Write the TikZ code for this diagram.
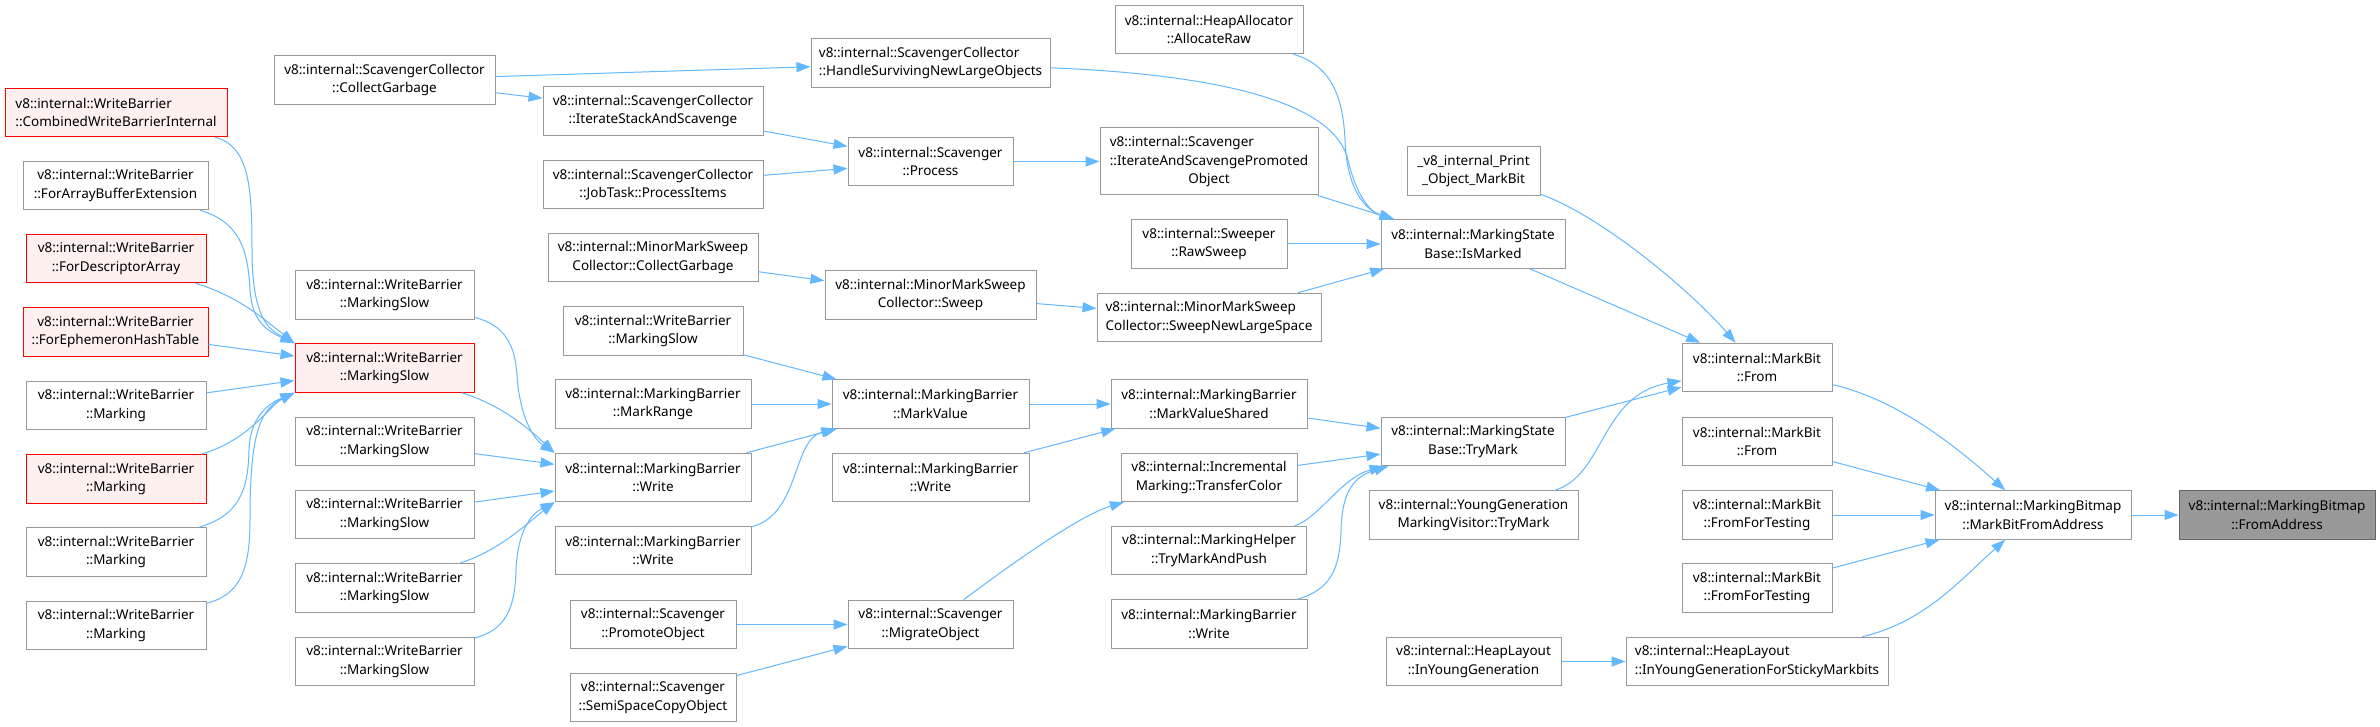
\documentclass[tikz,border=0pt]{standalone}
\usepackage{fontspec}
\setmainfont{Noto Sans}
\usetikzlibrary{arrows.meta}
\definecolor{callblue}{HTML}{63B8FF}
\definecolor{boxline}{HTML}{999999}
\definecolor{hotline}{HTML}{FF0000}
\definecolor{hotfill}{HTML}{FFF0F0}
\definecolor{selline}{HTML}{666666}
\definecolor{selfill}{HTML}{999999}

\begin{document}
\begin{tikzpicture}[x=1pt,y=-1pt,font=\fontsize{13.5}{18.3}\selectfont,
  >={Triangle[length=14pt,width=10pt]},
  fn/.style={draw=boxline,fill=white,line width=1pt,align=center,inner sep=0pt,minimum height=48.5pt},
  fnhot/.style={fn,draw=hotline,fill=hotfill},
  fnsel/.style={fn,draw=selline,fill=selfill},
  call/.style={->,draw=callblue,line width=1pt}]
  \path[use as bounding box,fill=white] (0,0) rectangle (2380,727);

  % column 1: write barrier entry points
  \node[fnhot,minimum width=222pt,align=left] (wbcwbi) at (116,112.5) {v8::internal::WriteBarrier\\::CombinedWriteBarrierInternal};
  \node[fn,minimum width=185pt] (wbfabe) at (115.5,185.5) {v8::internal::WriteBarrier\\::ForArrayBufferExtension};
  \node[fnhot,minimum width=180pt] (wbfda) at (116,258.5) {v8::internal::WriteBarrier\\::ForDescriptorArray};
  \node[fnhot,minimum width=185pt] (wbfeht) at (115.5,332) {v8::internal::WriteBarrier\\::ForEphemeronHashTable};
  \node[fn,minimum width=180pt] (wbmk1) at (116,405.5) {v8::internal::WriteBarrier\\::Marking};
  \node[fnhot,minimum width=180pt] (wbmk2) at (116,479) {v8::internal::WriteBarrier\\::Marking};
  \node[fn,minimum width=180pt] (wbmk3) at (116,552) {v8::internal::WriteBarrier\\::Marking};
  \node[fn,minimum width=180pt] (wbmk4) at (116,625.5) {v8::internal::WriteBarrier\\::Marking};

  % column 2: marking slow paths
  \node[fn,minimum width=221pt] (sccg) at (384.5,80) {v8::internal::ScavengerCollector\\::CollectGarbage};
  \node[fn,minimum width=179pt] (wbms1) at (384.5,295) {v8::internal::WriteBarrier\\::MarkingSlow};
  \node[fnhot,minimum width=179pt] (wbms2) at (384.5,368) {v8::internal::WriteBarrier\\::MarkingSlow};
  \node[fn,minimum width=179pt] (wbms3) at (384.5,441.5) {v8::internal::WriteBarrier\\::MarkingSlow};
  \node[fn,minimum width=179pt] (wbms4) at (384.5,514.5) {v8::internal::WriteBarrier\\::MarkingSlow};
  \node[fn,minimum width=179pt] (wbms5) at (384.5,588) {v8::internal::WriteBarrier\\::MarkingSlow};
  \node[fn,minimum width=179pt] (wbms6) at (384.5,661.5) {v8::internal::WriteBarrier\\::MarkingSlow};

  % column 3
  \node[fn,minimum width=220pt] (scisas) at (653,111) {v8::internal::ScavengerCollector\\::IterateStackAndScavenge};
  \node[fn,minimum width=220pt] (scpi) at (653,184.5) {v8::internal::ScavengerCollector\\::JobTask::ProcessItems};
  \node[fn,minimum width=210pt] (mmscg) at (653,257.5) {v8::internal::MinorMarkSweep\\Collector::CollectGarbage};
  \node[fn,minimum width=180pt] (wbms7) at (653,331) {v8::internal::WriteBarrier\\::MarkingSlow};
  \node[fn,minimum width=196pt] (mbmr) at (653,404) {v8::internal::MarkingBarrier\\::MarkRange};
  \node[fn,minimum width=196pt] (mbw1) at (653,477.5) {v8::internal::MarkingBarrier\\::Write};
  \node[fn,minimum width=196pt] (mbw2) at (653,550.5) {v8::internal::MarkingBarrier\\::Write};
  \node[fn,minimum width=166pt] (scpo) at (653,624.5) {v8::internal::Scavenger\\::PromoteObject};
  \node[fn,minimum width=166pt] (scssco) at (653,697.5) {v8::internal::Scavenger\\::SemiSpaceCopyObject};

  % column 4
  \node[fn,minimum width=239pt,align=left] (schsnlo) at (930.5,63) {v8::internal::ScavengerCollector\\::HandleSurvivingNewLargeObjects};
  \node[fn,minimum width=165pt] (scproc) at (930.5,161.5) {v8::internal::Scavenger\\::Process};
  \node[fn,minimum width=211pt] (mmssw) at (930.5,295) {v8::internal::MinorMarkSweep\\Collector::Sweep};
  \node[fn,minimum width=197pt] (mbmv) at (930.5,404) {v8::internal::MarkingBarrier\\::MarkValue};
  \node[fn,minimum width=197pt] (mbw3) at (930.5,477.5) {v8::internal::MarkingBarrier\\::Write};
  \node[fn,minimum width=165pt] (scmo) at (930.5,624.5) {v8::internal::Scavenger\\::MigrateObject};

  % column 5
  \node[fn,minimum width=188pt] (haar) at (1209,29.5) {v8::internal::HeapAllocator\\::AllocateRaw};
  \node[fn,minimum width=218pt,minimum height=67pt] (sciasp) at (1209,161.5)
    {\begin{tabular}{@{}l@{}}v8::internal::Scavenger\\::IterateAndScavengePromoted\\\multicolumn{1}{@{}c@{}}{Object}\end{tabular}};
  \node[fn,minimum width=156pt] (swrs) at (1209,244) {v8::internal::Sweeper\\::RawSweep};
  \node[fn,minimum width=224pt,align=left] (mmssnls) at (1209,317.5) {v8::internal::MinorMarkSweep\\Collector::SweepNewLargeSpace};
  \node[fn,minimum width=196pt] (mbmvs) at (1209,404) {v8::internal::MarkingBarrier\\::MarkValueShared};
  \node[fn,minimum width=176pt] (imtc) at (1209,477.5) {v8::internal::Incremental\\Marking::TransferColor};
  \node[fn,minimum width=195pt] (mhtmp) at (1209,550.5) {v8::internal::MarkingHelper\\::TryMarkAndPush};
  \node[fn,minimum width=196pt] (mbw4) at (1209,624) {v8::internal::MarkingBarrier\\::Write};

  % column 6
  \node[fn,minimum width=133pt] (pomb) at (1473.5,171) {\_v8\_internal\_Print\\\_Object\_MarkBit};
  \node[fn,minimum width=184pt] (msbim) at (1473,244) {v8::internal::MarkingState\\Base::IsMarked};
  \node[fn,minimum width=184pt] (msbtm) at (1473,441.5) {v8::internal::MarkingState\\Base::TryMark};
  \node[fn,minimum width=209pt] (ygmvtm) at (1473.5,515) {v8::internal::YoungGeneration\\MarkingVisitor::TryMark};
  \node[fn,minimum width=175pt] (hliyg) at (1473.5,661.5) {v8::internal::HeapLayout\\::InYoungGeneration};

  % column 7
  \node[fn,minimum width=150pt] (mbf1) at (1757,367.5) {v8::internal::MarkBit\\::From};
  \node[fn,minimum width=150pt] (mbf2) at (1757,441.5) {v8::internal::MarkBit\\::From};
  \node[fn,minimum width=150pt] (mbfft1) at (1757,515) {v8::internal::MarkBit\\::FromForTesting};
  \node[fn,minimum width=150pt] (mbfft2) at (1757,588) {v8::internal::MarkBit\\::FromForTesting};
  \node[fn,minimum width=262pt,align=left] (hliygsm) at (1757,661.5) {v8::internal::HeapLayout\\::InYoungGenerationForStickyMarkbits};

  % columns 8 and 9
  \node[fn,minimum width=196pt] (mbmbfa) at (2033,515) {v8::internal::MarkingBitmap\\::MarkBitFromAddress};
  \node[fnsel,minimum width=196pt] (mbfa) at (2277,515) {v8::internal::MarkingBitmap\\::FromAddress};

  % col1 -> red MarkingSlow
  \draw[call] (wbcwbi) .. controls (250,146) and (252,190) .. (252,250) .. controls (252,320) and (270,330) .. (wbms2.north west);
  \draw[call] (wbfabe) .. controls (240,222) and (248,250) .. (250,290) .. controls (252,320) and (265,330) .. (wbms2.north west);
  \draw[call] (wbfda) .. controls (240,297) and (265,320) .. (wbms2.north west);
  \draw[call] (wbfeht) -- (wbms2);
  \draw[call] (wbmk1) -- (wbms2);
  \draw[call] (wbmk2) .. controls (250,440) and (270,405) .. (wbms2.south west);
  \draw[call] (wbmk3) .. controls (240,515) and (248,490) .. (249,450) .. controls (250,420) and (265,405) .. (wbms2.south west);
  \draw[call] (wbmk4) .. controls (240,595) and (250,570) .. (250,520) .. controls (250,440) and (258,410) .. (wbms2.south west);

  % col2 -> MarkingBarrier::Write
  \draw[call] (wbms1) .. controls (505,325) and (515,345) .. (517,375) .. controls (520,420) and (535,440) .. (mbw1.north west);
  \draw[call] (wbms2) .. controls (500,405) and (525,425) .. (mbw1.north west);
  \draw[call] (wbms3) -- (mbw1);
  \draw[call] (wbms4) -- (mbw1);
  \draw[call] (wbms5) .. controls (500,550) and (525,525) .. (mbw1.south west);
  \draw[call] (wbms6) .. controls (505,630) and (515,610) .. (516,570) .. controls (518,525) and (535,512) .. (mbw1.south west);

  % col2/3 -> col4
  \draw[call] (sccg) -- (schsnlo);
  \draw[call] (sccg) -- (scisas);
  \draw[call] (scisas) -- (scproc);
  \draw[call] (scpi) -- (scproc);
  \draw[call] (mmscg) -- (mmssw);
  \draw[call] (wbms7) -- (mbmv);
  \draw[call] (mbmr) -- (mbmv);
  \draw[call] (mbw1) -- (mbmv);
  \draw[call] (mbw2) .. controls (800,515) and (792,440) .. (mbmv);
  \draw[call] (scpo) -- (scmo);
  \draw[call] (scssco) -- (scmo);

  % col4 -> col5
  \draw[call] (schsnlo) .. controls (1230,75) and (1335,105) .. (1348,160) .. controls (1356,195) and (1370,212) .. (msbim);
  \draw[call] (scproc) -- (sciasp);
  \draw[call] (mmssw) -- (mmssnls);
  \draw[call] (mbmv) -- (mbmvs);
  \draw[call] (mbw3) -- (mbmvs);
  \draw[call] (scmo) .. controls (1010,565) and (1080,515) .. (imtc);

  % col5 -> col6
  \draw[call] (haar) .. controls (1330,65) and (1343,95) .. (1345,140) .. controls (1347,190) and (1365,210) .. (msbim);
  \draw[call] (sciasp) -- (msbim);
  \draw[call] (swrs) -- (msbim);
  \draw[call] (mmssnls) -- (msbim);
  \draw[call] (mbmvs) -- (msbtm);
  \draw[call] (imtc) -- (msbtm);
  \draw[call] (mhtmp) .. controls (1318,519) and (1341,478) .. (msbtm);
  \draw[call] (mbw4) .. controls (1330,590) and (1340,570) .. (1341,530) .. controls (1342,490) and (1355,476) .. (msbtm);
  \draw[call] (hliyg) -- (hliygsm);

  % col6 -> MarkBit::From
  \draw[call] (pomb) .. controls (1600,215) and (1690,290) .. (mbf1);
  \draw[call] (msbim) -- (mbf1);
  \draw[call] (msbtm) -- (mbf1);
  \draw[call] (ygmvtm) .. controls (1605,475) and (1600,395) .. (mbf1);

  % col7 -> MarkBitFromAddress -> FromAddress
  \draw[call] (mbf1) .. controls (1900,400) and (1960,450) .. (mbmbfa);
  \draw[call] (mbf2) -- (mbmbfa);
  \draw[call] (mbfft1) -- (mbmbfa);
  \draw[call] (mbfft2) -- (mbmbfa);
  \draw[call] (hliygsm) .. controls (1925,622) and (1960,580) .. (mbmbfa);
  \draw[call] (mbmbfa) -- (mbfa);
\end{tikzpicture}
\end{document}
